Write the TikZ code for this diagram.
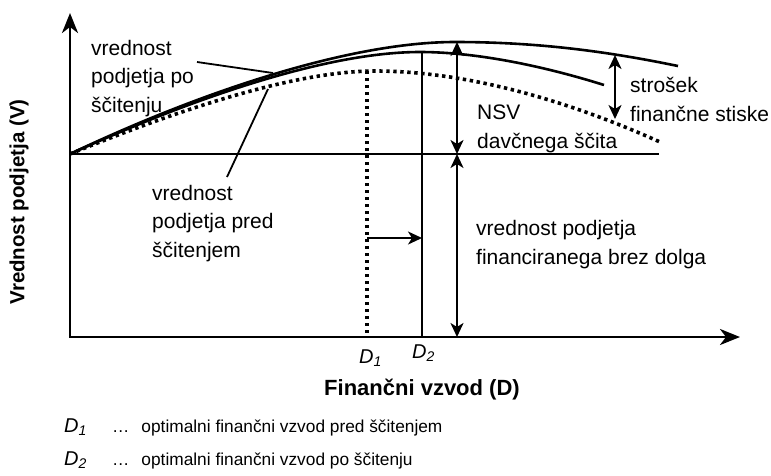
\documentclass[tikz,border=0pt]{standalone}
\usepackage{fontspec}
\setmainfont{Liberation Sans}
\usetikzlibrary{arrows.meta}
\begin{document}
\begin{tikzpicture}[x=1pt,y=-1pt,
  axis/.style={line width=2.8pt,{Stealth[length=20pt,width=16pt,inset=6pt]}-{Stealth[length=20pt,width=16pt,inset=6pt]}},
  curve/.style={line width=2.6pt},
  thinline/.style={line width=2.4pt},
  dotcurve/.style={line width=3.6pt, dash pattern=on 3.4pt off 3.6pt},
  dbl/.style={line width=2.2pt,{Stealth[length=14pt,width=13pt,inset=4pt]}-{Stealth[length=14pt,width=13pt,inset=4pt]}},
  sgl/.style={line width=1.8pt,-{Stealth[length=14pt,width=13pt,inset=4pt]}},
  leader/.style={line width=1.8pt},
  lbl/.style={font=\fontsize{21}{28.5}\selectfont, inner sep=0pt, align=left, anchor=base west},
  dlbl/.style={font=\fontsize{20}{24}\selectfont\itshape, inner sep=0pt, anchor=base west},
  leg/.style={font=\fontsize{17.3}{20}\selectfont, inner sep=0pt, anchor=base west}
]
\useasboundingbox (0,0) rectangle (771,475);

% coordinates
\coordinate (O) at (70,337);
\coordinate (Ytip) at (70,13);
\coordinate (Xtip) at (740,337);
\coordinate (S) at (70,154);
\coordinate (Hend) at (659,154);
\coordinate (TopPk) at (455,42);
\coordinate (TopEnd) at (678,66);
\coordinate (MidPk) at (420,52);
\coordinate (MidEnd) at (604,85);
\coordinate (DotPk) at (375,71);
\coordinate (DotEnd) at (660,142);
\coordinate (D1top) at (367,71);
\coordinate (D1bot) at (367,337);
\coordinate (D2top) at (422,52);
\coordinate (D2bot) at (422,337);
\coordinate (D1arr) at (367,238);
\coordinate (D2arr) at (422,238);
\coordinate (NSVtop) at (457,42);
\coordinate (NSVmid) at (457,154);
\coordinate (NSVbot) at (457,337);
\coordinate (Ctop) at (615,55);
\coordinate (Cbot) at (615,119);
\coordinate (L1a) at (197,62);
\coordinate (L1b) at (273,73);
\coordinate (L2a) at (227,177);
\coordinate (L2b) at (268,89);

% axes
\draw[axis] (Ytip) -- (O) -- (Xtip);
% horizontal base line
\draw[thinline] (S) -- (Hend);
% curves
\draw[curve] (S) .. controls (200,92) and (350,42) .. (TopPk)
  .. controls (540,42) and (610,52) .. (TopEnd);
\draw[curve] (S) .. controls (200,95) and (330,52) .. (MidPk)
  .. controls (480,52) and (550,68) .. (MidEnd);
\draw[dotcurve] (S) .. controls (190,105) and (300,71) .. (DotPk)
  .. controls (460,71) and (560,97) .. (DotEnd);
% verticals
\draw[dotcurve] (D1top) -- (D1bot);
\draw[thinline] (D2top) -- (D2bot);
\draw[sgl] (D1arr) -- (D2arr);
% double arrows
\draw[dbl] (NSVtop) -- (NSVmid);
\draw[dbl] (NSVmid) -- (NSVbot);
\draw[dbl] (Ctop) -- (Cbot);
% leaders
\draw[leader] (L1a) -- (L1b);
\draw[leader] (L2a) -- (L2b);

% labels (base anchor = baseline of last line)
\node[lbl] (lpo) at (91,112) {vrednost\\podjetja po\\ščitenju};
\node[lbl] (lpred) at (152,257) {vrednost\\podjetja pred\\ščitenjem};
\node[lbl] (lnsv) at (477,148) {NSV\\davčnega ščita};
\node[lbl] (lcost) at (630,121) {strošek\\finančne stiske};
\node[lbl] (lbase) at (476,264) {vrednost podjetja\\financiranega brez dolga};
\node[dlbl] (d1) at (359,363) {D\textsubscript{1}};
\node[dlbl] (d2) at (412,358) {D\textsubscript{2}};
\node[font=\fontsize{22}{24}\selectfont\bfseries, inner sep=0pt, anchor=base] (xlab) at (422,395) {Finančni vzvod (D)};
\node[font=\fontsize{20.5}{24}\selectfont\bfseries, inner sep=0pt, rotate=90] (ylab) at (19,202) {Vrednost podjetja (V)};

% legend
\node[dlbl] (g1) at (64,432) {D\textsubscript{1}};
\node[leg] (t1) at (112,432) {…\hspace{12pt}optimalni finančni vzvod pred ščitenjem};
\node[dlbl] (g2) at (64,465) {D\textsubscript{2}};
\node[leg] (t2) at (112,465) {…\hspace{12pt}optimalni finančni vzvod po ščitenju};
\end{tikzpicture}
\end{document}
